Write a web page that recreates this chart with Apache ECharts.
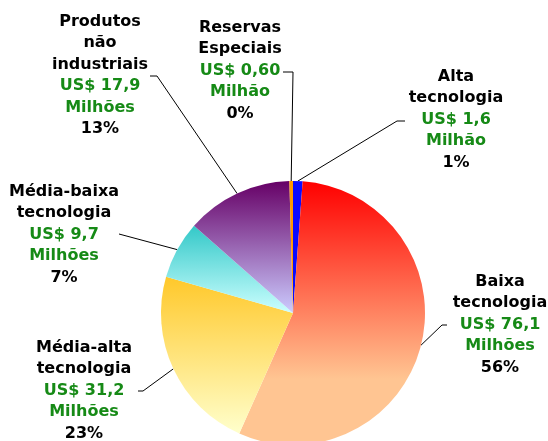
<!DOCTYPE html>
<html>
<head>
<meta charset="utf-8" />
<title>Pie</title>
<script src="https://cdn.jsdelivr.net/npm/echarts@6/dist/echarts.min.js"></script>
</head>
<body style="margin:0;background:#fff;">
<div id="chart" style="width:548px;height:441px;"></div>
<script>
// data, clockwise from the top
var names = ['Alta\ntecnologia', 'Baixa\ntecnologia', 'Média-alta\ntecnologia', 'Média-baixa\ntecnologia', 'Produtos\nnão\nindustriais', 'Reservas\nEspeciais'];
var values = [1.6, 76.1, 31.2, 9.7, 17.9, 0.6];
var valueText = ['1,6', '76,1', '31,2', '9,7', '17,9', '0,60'];
var units = ['Milhão', 'Milhões', 'Milhões', 'Milhões', 'Milhões', 'Milhão'];

// colours (top -> bottom of slice), with the offset where the bottom colour is reached
var topColors = ['#0a0aff', '#ff0000', '#ffc82a', '#33c8c8', '#660066', '#ff9900'];
var botColors = ['#0a0aff', '#ffc592', '#ffffcc', '#ccffff', '#ccccff', '#ff9900'];
var botStop = [1, 0.75, 1, 1, 1, 1];

// label block position (center x, top y) and leader line elbow / end
var labelPos = [[456, 66], [500, 271], [84, 337], [64, 181], [100, 11], [240, 17]];
var lineElbow = [[397, 121], [442, 325], [143, 391], [119, 234], [157, 76], [293, 72]];
var lineEnd = [[405, 121], [447, 325], [138, 391], [119, 234], [150, 76], [283, 72]];

var dom = document.getElementById('chart');
var myChart = echarts.init(dom, null, {renderer: 'canvas'});

var seriesData = [];
for (var i = 0; i < names.length; i++) {
  seriesData.push({
    name: names[i],
    value: values[i],
    itemStyle: {
      color: new echarts.graphic.LinearGradient(0, 0, 0, 1, [
        {offset: 0, color: topColors[i]},
        {offset: botStop[i], color: botColors[i]},
        {offset: 1, color: botColors[i]}
      ])
    }
  });
}

var option = {
  animation: false,
  series: [{
    type: 'pie',
    center: [293, 313],
    radius: 132,
    startAngle: 90,
    clockwise: true,
    percentPrecision: 0,
    minAngle: 0,
    avoidLabelOverlap: false,
    itemStyle: {borderWidth: 0},
    label: {
      show: true,
      position: 'outside',
      formatter: function (p) {
        var i = p.dataIndex;
        var lines = names[i].split('\n').map(function (s) { return '{n|' + s + '}'; });
        lines.push('{v|US$ ' + valueText[i] + '}');
        lines.push('{v|' + units[i] + '}');
        lines.push('{n|' + p.percent + '%}');
        return lines.join('\n');
      },
      rich: {
        n: {fontFamily: 'DejaVu Sans', fontWeight: 'bold', fontSize: 16, color: '#000', lineHeight: 21.5, align: 'center'},
        v: {fontFamily: 'DejaVu Sans', fontWeight: 'bold', fontSize: 16, color: '#168a16', lineHeight: 21.5, align: 'center'}
      }
    },
    labelLine: {
      show: true,
      lineStyle: {color: '#000', width: 1}
    },
    labelLayout: function (params) {
      var i = params.dataIndex;
      var start = params.labelLinePoints ? params.labelLinePoints[0] : lineElbow[i];
      return {
        x: labelPos[i][0],
        y: labelPos[i][1],
        align: 'center',
        verticalAlign: 'top',
        labelLinePoints: [start, lineElbow[i], lineEnd[i]]
      };
    },
    data: seriesData
  }]
};
myChart.setOption(option);
window.addEventListener('resize', myChart.resize);
</script>
</body>
</html>
